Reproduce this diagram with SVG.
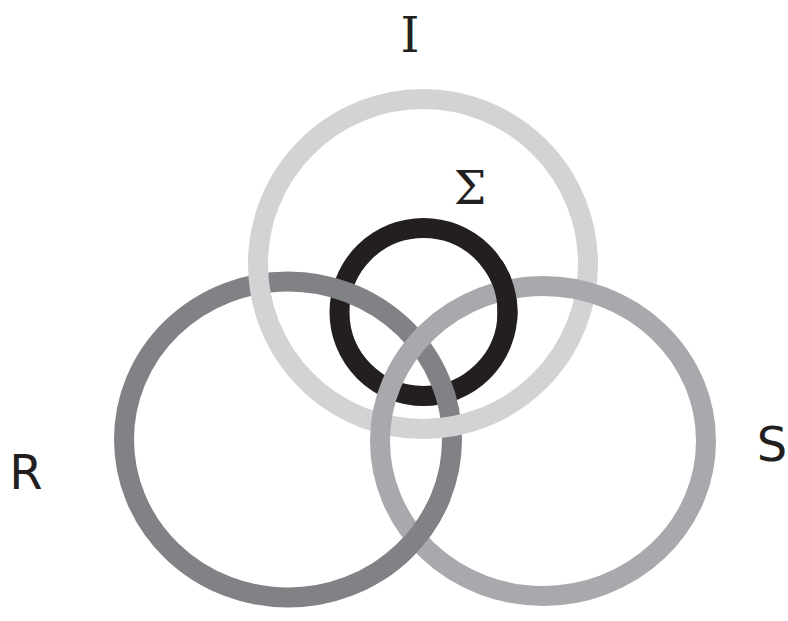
<svg xmlns="http://www.w3.org/2000/svg" width="788" height="621" viewBox="0 0 788 621">
<style>
.ring{fill:none;stroke-width:20}
.i{stroke:#d1d3d4}.r{stroke:#808285}.s{stroke:#a7a9ac}.g{stroke:#231f20}
.sans{font-family:"DejaVu Sans","Liberation Sans",sans-serif;font-size:48px;fill:#231f20}
.serif{font-family:"DejaVu Serif","Liberation Serif",serif;fill:#231f20}
</style>
<defs>
<clipPath id="cRS"><rect x="380" y="500" width="80" height="80"/></clipPath>
<clipPath id="cGS"><rect x="480" y="260" width="60" height="60"/></clipPath>
</defs>
<g id="sigma-ring"><circle class="ring g" cx="423.5" cy="312" r="84"/></g>
<g id="R-ring"><ellipse class="ring r" cx="288" cy="439.5" rx="164" ry="158"/></g>
<g id="I-ring"><circle class="ring i" cx="423" cy="264" r="165"/></g>
<g id="S-ring"><ellipse class="ring s" cx="543" cy="441" rx="163" ry="155"/></g>
<g id="patches">
<ellipse class="ring r" cx="288" cy="439.5" rx="164" ry="158" clip-path="url(#cRS)"/>
<circle class="ring g" cx="423.5" cy="312" r="84" clip-path="url(#cGS)"/>
</g>
<g id="labels">
<text class="serif" x="410" y="52" font-size="48" text-anchor="middle">I</text>
<text class="serif" x="470" y="204" font-size="46" text-anchor="middle">Σ</text>
<text class="sans" x="26" y="489" text-anchor="middle">R</text>
<text class="sans" x="772" y="461" text-anchor="middle">S</text>
</g>
</svg>
